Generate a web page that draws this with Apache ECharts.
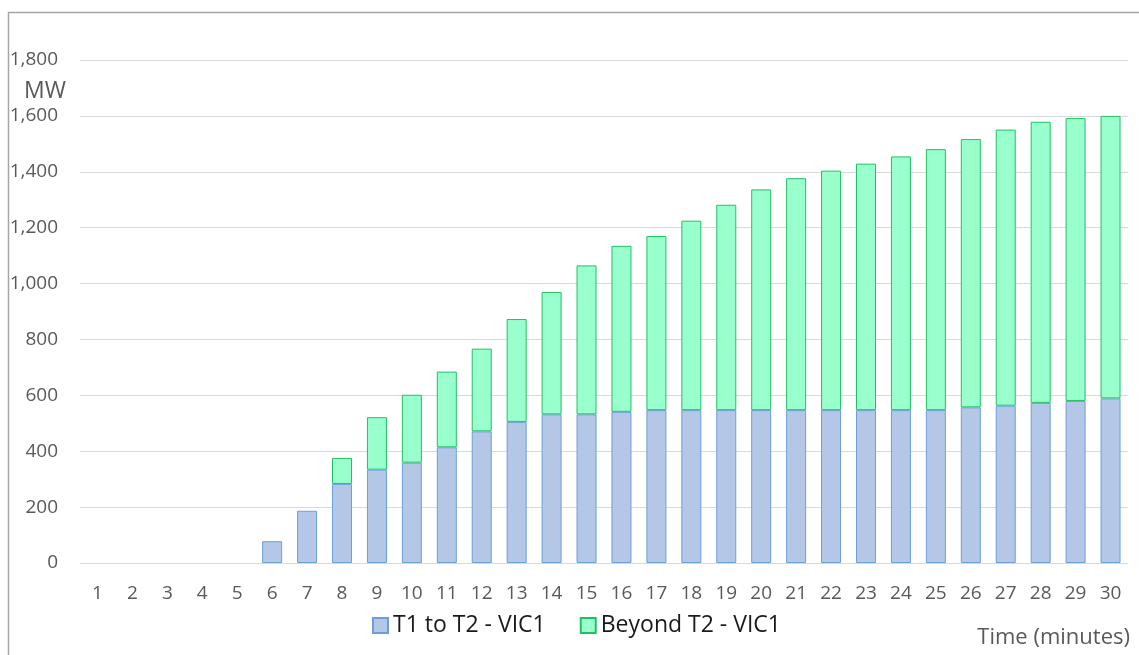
<!DOCTYPE html>
<html>
<head>
<meta charset="utf-8">
<script src="https://cdn.jsdelivr.net/npm/echarts@6/dist/echarts.min.js"></script>
<style>
  html, body { margin: 0; padding: 0; background: #fff; }
  #chart { width: 1139px; height: 655px; }
</style>
</head>
<body>
<div id="chart"></div>
<script>
// Minutes after the event
const minutes = ['1','2','3','4','5','6','7','8','9','10','11','12','13','14','15',
  '16','17','18','19','20','21','22','23','24','25','26','27','28','29','30'];

// MW delivered between T1 and T2 (lower stack)
const t1ToT2 = [0, 0, 0, 0, 0, 78, 187, 283, 334, 359, 414, 471, 505, 532, 532,
  541, 547, 547, 547, 547, 547, 547, 547, 547, 547, 557, 563, 573, 580, 589];

// Cumulative total MW (top of each stacked column)
const totalMW = [0, 0, 0, 0, 0, 78, 187, 376, 522, 602, 685, 767, 873, 970, 1065,
  1135, 1170, 1225, 1282, 1337, 1377, 1404, 1429, 1455, 1481, 1517, 1551, 1579, 1592, 1600];

// MW beyond T2 (upper stack) = total minus the lower part
const beyondT2 = totalMW.map((v, i) => Math.max(0, v - t1ToT2[i]));

const yTicks = { min: 0, max: 1800, step: 200 };

// Empty segments are skipped so no zero-height outline is drawn
const asBars = arr => arr.map(v => (v > 0 ? v : '-'));

const FONT = '"Open Sans", "Liberation Sans", sans-serif';
const GREY = '#595959';

const chart = echarts.init(document.getElementById('chart'), null, { renderer: 'canvas' });

chart.setOption({
  animation: false,
  backgroundColor: '#ffffff',
  textStyle: { fontFamily: FONT },
  grid: { left: 80, right: 11, top: 60, bottom: 92, containLabel: false },
  legend: {
    left: 372,
    top: 614,
    padding: 0,
    itemWidth: 15,
    itemHeight: 15,
    itemGap: 34,
    icon: 'rect',
    textStyle: { fontFamily: FONT, fontSize: 23, color: '#1a1a1a' },
    data: ['T1 to T2 - VIC1', 'Beyond T2 - VIC1']
  },
  xAxis: {
    type: 'category',
    data: minutes,
    axisLine: { show: true, lineStyle: { color: '#d9d9d9', width: 1 } },
    axisTick: { show: false },
    axisLabel: { color: GREY, fontSize: 19, fontFamily: FONT, margin: 21, interval: 0 }
  },
  yAxis: {
    type: 'value',
    min: yTicks.min,
    max: yTicks.max,
    interval: yTicks.step,
    axisLine: { show: false },
    axisTick: { show: false },
    splitLine: { lineStyle: { color: '#d9d9d9', width: 1 } },
    axisLabel: {
      color: GREY, fontSize: 19, fontFamily: FONT, margin: 22,
      formatter: v => v.toLocaleString('en-US')
    }
  },
  series: [
    {
      name: 'T1 to T2 - VIC1',
      type: 'bar',
      stack: 'mw',
      barWidth: 20,
      data: asBars(t1ToT2),
      itemStyle: { color: '#b4c7e7', borderColor: '#6a9fd8', borderWidth: 1 }
    },
    {
      name: 'Beyond T2 - VIC1',
      type: 'bar',
      stack: 'mw',
      barWidth: 20,
      data: asBars(beyondT2),
      itemStyle: { color: '#99ffcc', borderColor: '#22c064', borderWidth: 1 }
    }
  ],
  graphic: [
    {
      type: 'rect',
      left: 6, top: 10, silent: true,
      shape: { width: 1200, height: 700 },
      style: { fill: 'none', stroke: '#a6a6a6', lineWidth: 1.5 }
    },
    {
      type: 'text',
      left: 24, top: 80,
      style: { text: 'MW', font: '23px ' + FONT, fill: GREY }
    },
    {
      type: 'text',
      right: 9, top: 627,
      style: { text: 'Time (minutes)', font: '22px ' + FONT, fill: GREY }
    }
  ]
});
</script>
</body>
</html>
